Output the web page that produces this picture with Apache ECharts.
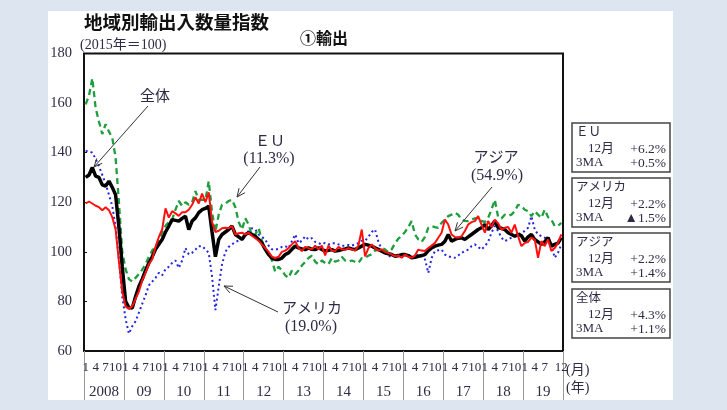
<!DOCTYPE html>
<html>
<head>
<meta charset="utf-8">
<script src="https://cdn.jsdelivr.net/npm/echarts@6/dist/echarts.min.js"></script>
<style>html,body{margin:0;padding:0;background:#dde6f0;}#c{width:727px;height:410px;}</style>
</head>
<body>
<div id="c"></div>
<script>
// ---- data ----
const years = ['2008','09','10','11','12','13','14','15','16','17','18','19'];
const monthTickLabels = {0:'1', 3:'4', 6:'7', 9:'10'};
const lastYearTickLabels = {0:'1', 3:'4', 6:'7', 11:'12'};
const yTicks = [60, 80, 100, 120, 140, 160, 180];

const total = [
 130, 131, 134, 130.5, 130, 127, 126.5, 128.5, 126, 123, 110, 94,
 80, 77.5, 77.3, 82, 86, 89, 92.5, 95.5, 98, 101, 103, 105,
 108, 110.4, 113, 112.7, 112.4, 113.5, 114.4, 109, 112.4, 113.7, 115.8, 117,
 117.5, 118.4, 108, 98, 105, 107, 108, 109, 110.4, 107, 106, 105,
 107, 107.7, 107, 106.3, 105, 103.5, 101, 98.9, 97.5, 96.9, 96.9, 97.5,
 98.9, 99.6, 101, 102.3, 101.6, 101.2, 100.9, 101.6, 101, 100.9, 101.6, 101,
 100.3, 100.6, 100.9, 100.3, 100.5, 100.9, 101.2, 101.6, 101.2, 100.9, 101.6, 102.3,
 103, 102.7, 102.3, 101.6, 101, 100.3, 99.6, 99.2, 98.9, 98.2, 98.5, 98.9,
 98.9, 98.5, 97.6, 97.8, 98.2, 98.5, 98.9, 100.5, 101.6, 102.3, 102.7, 103,
 104.3, 107, 104.3, 105, 105.5, 105.7, 105, 106, 107, 108, 109, 109.7,
 111, 109, 110.5, 112.4, 109.7, 109.5, 109, 107.7, 107, 106.3, 107, 106.5,
 104.3, 106, 107, 105, 104, 103, 104, 105.7, 102.3, 103, 103.5, 105.7
];
const asia = [
 119.5, 120.3, 119.5, 118.6, 118, 116.8, 118, 116.8, 114, 109, 96, 84,
 78, 77, 78, 81, 84, 88.5, 91.5, 95, 97, 102, 106, 109,
 117.5, 113.8, 116.4, 115.5, 114.5, 116, 116, 117, 119, 122, 119.5, 123.5,
 120, 124, 112, 108, 108.5, 109.5, 109.7, 109.5, 110.4, 107, 107.5, 107.7,
 107, 107.7, 106.5, 105.5, 104.5, 103, 101.5, 100, 98, 97.5, 98, 100,
 100.5, 101.5, 103, 104.3, 101.5, 100.3, 102, 101.5, 101, 102.5, 101, 102.5,
 98.5, 102.5, 100.5, 100.3, 102, 101, 100.8, 101.5, 101, 100.5, 102.5, 109,
 98.2, 101.5, 103, 101.5, 100.5, 101, 100, 99.5, 99, 98.2, 98.5, 97.6,
 98.9, 98, 97.6, 98.5, 100.9, 100.5, 100.3, 101.5, 102.5, 103.6, 105.7, 107.7,
 113, 111, 107, 106, 105.7, 106.3, 108.4, 111, 112, 112.4, 114.4, 111,
 107.7, 112.4, 110, 113, 111.5, 109, 109.7, 110, 107.7, 111, 106.3, 102.3,
 103.6, 104, 105.7, 105, 97.6, 104.3, 102.3, 105, 100.3, 101.5, 103.6, 107
];
const eu = [
 159.5, 163, 170, 158, 152.5, 147.5, 151.5, 148.5, 146, 138, 120, 100,
 93, 89, 88, 89.5, 91, 92.8, 95, 98, 100.5, 102, 104.5, 108,
 110.5, 112, 113, 117, 120.5, 118.5, 120, 119, 120, 124.5, 121, 121,
 121, 128.5, 116, 108, 115, 119, 119.5, 120.5, 121, 118, 112, 109,
 113.5, 111, 106.5, 107, 109.5, 104.5, 101, 99.6, 96.5, 92, 94, 92.5,
 90.5, 89.5, 92.5, 91, 92.5, 94.5, 96, 97.5, 98.5, 96, 95, 96.5,
 95.5, 95, 97.5, 96, 96.5, 98, 96.5, 96, 96.5, 96, 95.5, 97.5,
 97.5, 98.5, 99, 100.5, 100.9, 101.5, 101, 99.8, 101, 103.5, 105.3, 106.5,
 108, 110, 112.4, 107, 105, 104, 106, 109.7, 110.4, 110, 109.7, 111.7,
 113, 114.4, 115, 115.8, 115, 113, 112.5, 112.4, 113, 113.5, 113.7, 112.5,
 112, 113.7, 117, 121, 114, 113.5, 115, 114.5, 115, 116.4, 119, 118.5,
 117, 116.4, 114.4, 116.4, 115, 113.7, 117, 114, 113, 110.4, 110.5, 111.7
];
const usa = [
 140.7, 140.5, 140, 137.5, 134.5, 131, 127.5, 123, 118.5, 110, 97, 82,
 73, 67, 70, 72, 75.5, 79, 82.5, 86.5, 88, 89.5, 91.5, 90.5,
 93, 94, 95.5, 96.5, 93.5, 96.5, 101.5, 99, 99.6, 100.9, 102.3, 102.3,
 101, 99.6, 90, 76.5, 86, 95, 100, 102, 103, 104, 104.5, 105,
 106.5, 108.5, 109.5, 109, 107, 106, 105, 102.5, 101, 100.9, 101.2, 102,
 102.3, 101.5, 104.3, 107, 103.5, 104.5, 106.3, 105, 105.5, 104, 103.5, 103,
 103.6, 103, 103.5, 103.5, 103, 102.5, 102.5, 102.8, 102.5, 103, 103.5, 104.5,
 104.5, 106, 108, 109, 104, 101, 99.5, 98.5, 97.8, 98.5, 98.2, 98.8,
 98.5, 98.2, 97.5, 97.8, 99, 98, 97, 91.5, 97.5, 100.3, 100.6, 100.9,
 98.9, 98.2, 97.8, 97.6, 98.5, 99.6, 100.3, 100.9, 102.3, 103, 102, 100.9,
 102.3, 104, 107.7, 110.4, 108.4, 105.7, 104.3, 105, 105.7, 106.3, 107, 107.7,
 108.4, 109.7, 114.4, 109, 107, 106.3, 105.7, 105, 103, 97.6, 99.6, 103
];
const boxTitles = ['ＥＵ', 'アメリカ', 'アジア', '全体'];
const boxMonth = ['+6.2%', '+2.2%', '+2.2%', '+4.3%'];
const box3MA = ['+0.5%', '▲1.5%', '+1.4%', '+1.1%'];

// ---- chart ----
const monthCats = [];
years.forEach(y => { for (let m = 1; m <= 12; m++) monthCats.push(y + '/' + m); });

const SERIF = "'Liberation Serif', 'Noto Sans CJK JP', serif";
const TXT = '#2f2a45';

function txt(x, y, text, size, opt) {
  opt = opt || {};
  return {type:'text', x:x, y:y, z:50, style:{text:text, fontSize:size, fontFamily:opt.family || SERIF,
    fontWeight:opt.weight || 'normal', fill:opt.fill || TXT, align:opt.align || 'center', verticalAlign:'middle'}};
}
function arrow(x0, y0, x1, y1) {
  const ang = Math.atan2(y1 - y0, x1 - x0), L = 9, a = 0.42;
  const p1 = [x1 - L * Math.cos(ang - a), y1 - L * Math.sin(ang - a)];
  const p2 = [x1 - L * Math.cos(ang + a), y1 - L * Math.sin(ang + a)];
  return [
    {type:'line', z:50, shape:{x1:x0, y1:y0, x2:x1, y2:y1}, style:{stroke:'#333', lineWidth:1}},
    {type:'polyline', z:50, shape:{points:[p1, [x1, y1], p2]}, style:{stroke:'#333', lineWidth:1, fill:null}}
  ];
}

const graphics = [
  {type:'rect', z:-100, shape:{x:48, y:11, width:625, height:389}, style:{fill:'#ffffff'}},
  txt(84, 22, '地域別輸出入数量指数', 18.5, {weight:'bold', family:"'Noto Sans CJK JP', sans-serif", fill:'#111', align:'left'}),
  txt(80, 45, '(2015年＝100)', 14, {align:'left'}),
  txt(300, 38, '①輸出', 16, {weight:'bold', family:"'Noto Sans CJK JP', sans-serif", fill:'#111', align:'left'}),
  txt(155, 97, '全体', 15),
  txt(270, 142, 'ＥＵ', 15),
  txt(269, 159, '(11.3%)', 16),
  txt(312, 309, 'アメリカ', 15),
  txt(311, 327, '(19.0%)', 16),
  txt(496, 158, 'アジア', 15),
  txt(497, 176, '(54.9%)', 16),
  txt(566, 370, '(月)', 14, {align:'left'}),
  txt(566, 388, '(年)', 14, {align:'left'})
].concat(arrow(148, 106, 94, 167), arrow(260, 167, 237, 197), arrow(278, 312, 224, 286), arrow(492, 187, 455, 231));

const boxTops = [123, 178, 233, 289];
boxTitles.forEach((t, k) => {
  const y0 = boxTops[k];
  graphics.push({type:'rect', z:40, shape:{x:572, y:y0, width:98, height:49}, style:{fill:'#fff', stroke:'#444', lineWidth:1.5}});
  graphics.push(txt(576, y0 + 10, t, 12.5, {align:'left'}));
  graphics.push(txt(588, y0 + 26, '12月', 13, {align:'left'}));
  graphics.push(txt(666, y0 + 26, boxMonth[k], 13.5, {align:'right'}));
  graphics.push(txt(576, y0 + 40, '3MA', 13, {align:'left'}));
  graphics.push(txt(666, y0 + 40, box3MA[k], 13.5, {align:'right'}));
});

const chart = echarts.init(document.getElementById('c'), null, {renderer:'canvas'});
chart.setOption({
  backgroundColor:'#dde6f0',
  animation:false,
  grid:{left:84, right:164, top:53.5, bottom:59, show:true, borderColor:'#111', borderWidth:2, backgroundColor:'transparent'},
  xAxis:[
    {type:'category', data:monthCats, boundaryGap:true, position:'bottom',
     axisLine:{show:false}, axisTick:{show:false}, splitLine:{show:false},
     axisLabel:{interval:0, margin:10, fontSize:13, color:TXT, fontFamily:SERIF,
       formatter:(v, i) => { const yi = Math.floor(i / 12), m = i % 12;
         const map = (yi === years.length - 1) ? lastYearTickLabels : monthTickLabels;
         return map[m] !== undefined ? map[m] : ''; }}},
    {type:'category', data:years, boundaryGap:true, position:'bottom',
     axisLine:{show:false}, splitLine:{show:false},
     axisTick:{show:true, interval:0, length:49, lineStyle:{color:'#999', width:1}},
     axisLabel:{interval:0, margin:34, fontSize:15, color:TXT, fontFamily:SERIF}}
  ],
  yAxis:{type:'value', min:yTicks[0], max:yTicks[yTicks.length - 1], interval:20,
    axisLine:{show:false}, splitLine:{show:false},
    axisTick:{show:true, inside:true, length:3, lineStyle:{color:'#111'}},
    axisLabel:{margin:12, fontSize:14.5, color:TXT, fontFamily:SERIF}},
  series:[
    {name:'アメリカ', type:'line', data:usa, showSymbol:false, z:2,
     lineStyle:{color:'#2424e0', width:2, type:[2, 3]}},
    {name:'EU', type:'line', data:eu, showSymbol:false, z:3,
     lineStyle:{color:'#1f9e3e', width:2.3, type:[6, 4]}},
    {name:'全体', type:'line', data:total, showSymbol:false, z:4,
     lineStyle:{color:'#000', width:3.5}},
    {name:'アジア', type:'line', data:asia, showSymbol:false, z:5,
     lineStyle:{color:'#ff1010', width:2}}
  ],
  graphic:graphics
});
</script>
</body>
</html>
